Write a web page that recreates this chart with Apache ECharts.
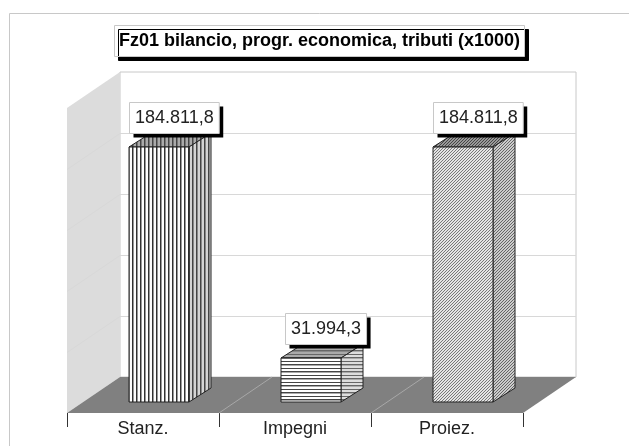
<!DOCTYPE html>
<html>
<head>
<meta charset="utf-8">
<style>
  html, body { margin: 0; padding: 0; background: #fff; }
  #chart-container { width: 629px; height: 446px; }
</style>
<script src="https://cdn.jsdelivr.net/npm/echarts@6/dist/echarts.min.js"></script>
</head>
<body>
<div id="chart-container"></div>
<script>
var categories = ['Stanz.', 'Impegni', 'Proiez.'];
var values = [184811.8, 31994.3, 184811.8];
var valueLabels = ['184.811,8', '31.994,3', '184.811,8'];
var gridValues = [0, 44200, 88400, 132600, 176800, 221000];
var chartTitle = 'Fz01 bilancio, progr. economica, tributi (x1000)';

var font = '"Liberation Sans", Arial, sans-serif';
var wallDx = 53, wallDy = -36;   // oblique depth of the floor
var barDx = 16, barDy = -11;     // bars stand a bit behind the front edge
var sideDx = 22, sideDy = -14;   // depth of one bar

// little hatch tiles for the bars
function tile(w, h, bg, draw) {
  var c = document.createElement('canvas');
  c.width = w;
  c.height = h;
  var ctx = c.getContext('2d');
  ctx.fillStyle = bg;
  ctx.fillRect(0, 0, w, h);
  draw(ctx);
  return { image: c, repeat: 'repeat' };
}
function vertical(bg, fg, soft) {
  return tile(4, 4, bg, function (ctx) {
    ctx.fillStyle = fg;
    ctx.fillRect(0, 0, 1, 4);
    ctx.fillStyle = soft;
    ctx.fillRect(1, 0, 1, 4);
  });
}
function horizontal(bg, fg, soft) {
  return tile(4, 7, bg, function (ctx) {
    ctx.fillStyle = fg;
    ctx.fillRect(0, 0, 4, 1);
    ctx.fillRect(0, 4, 4, 1);
    ctx.fillStyle = soft;
    ctx.fillRect(0, 1, 4, 1);
  });
}
function diagonal(bg, fg) {
  return tile(3, 3, bg, function (ctx) {
    ctx.fillStyle = fg;
    ctx.fillRect(2, 0, 1, 1);
    ctx.fillRect(1, 1, 1, 1);
    ctx.fillRect(0, 2, 1, 1);
  });
}
var patterns = [
  { front: vertical('#fff', '#333', '#999'), side: vertical('#d4d4d4', '#444', '#888'), top: vertical('#aaa', '#444', '#777') },
  { front: horizontal('#fff', '#444', '#aaa'), side: horizontal('#ddd', '#666', '#aaa'), top: horizontal('#aaa', '#666', '#888') },
  { front: diagonal('#e4e4e4', '#777'), side: diagonal('#ccc', '#666'), top: diagonal('#999', '#444') }
];

var measure = document.createElement('canvas').getContext('2d');
measure.font = '18px ' + font;

function poly(points, fill, stroke) {
  return {
    type: 'polygon',
    shape: { points: points },
    style: { fill: fill, stroke: stroke || null, lineWidth: 1 }
  };
}

function renderRoom(params, api) {
  var band = api.size([1, 0])[0];
  var x0 = api.coord([0, 0])[0] - band / 2;
  var x1 = x0 + band * categories.length;
  var y0 = api.coord([0, 0])[1];
  var yTop = api.coord([0, gridValues[gridValues.length - 1]])[1];
  var children = [
    poly([[x0 + wallDx, y0 + wallDy], [x0 + wallDx, yTop + wallDy], [x1 + wallDx, yTop + wallDy], [x1 + wallDx, y0 + wallDy]], '#fff', '#c8c8c8'),
    poly([[x0, y0], [x0, yTop], [x0 + wallDx, yTop + wallDy], [x0 + wallDx, y0 + wallDy]], '#dcdcdc', null),
    poly([[x0, y0], [x0 + wallDx, y0 + wallDy], [x1 + wallDx, y0 + wallDy], [x1, y0]], '#808080', null)
  ];
  gridValues.slice(1, -1).forEach(function (v) {
    var y = Math.round(api.coord([0, v])[1]) + 0.5;
    children.push({
      type: 'polyline',
      shape: { points: [[x0, y], [x0 + wallDx, y + wallDy], [x1 + wallDx, y + wallDy]] },
      style: { fill: null, stroke: '#d8d8d8', lineWidth: 1 }
    });
  });
  for (var i = 1; i < categories.length; i++) {
    var x = x0 + band * i;
    children.push({
      type: 'line',
      shape: { x1: x, y1: y0, x2: x + wallDx, y2: y0 + wallDy },
      style: { stroke: '#a8a8a8', lineWidth: 1 }
    });
  }
  return { type: 'group', children: children };
}

function renderBar(params, api) {
  var i = api.value(0);
  var top = api.coord([i, api.value(1)]);
  var base = api.coord([i, 0]);
  var half = api.size([1, 0])[0] * 0.2;
  var l = Math.round(base[0] - half + barDx);
  var r = Math.round(base[0] + half + barDx);
  var b = Math.round(base[1] + barDy);
  var t = Math.round(top[1] + barDy);
  var p = patterns[i];
  var edge = '#222';
  var text = valueLabels[i];
  var w = measure.measureText(text).width + 11;
  var cx = (l + r + sideDx) / 2 + 4;
  var boxX = Math.round(cx - w / 2) + 0.5;
  var boxY = t + sideDy - 31 + 0.5;
  return {
    type: 'group',
    children: [
      poly([[l, t], [r, t], [r + sideDx, t + sideDy], [l + sideDx, t + sideDy]], p.top, edge),
      poly([[r, t], [r + sideDx, t + sideDy], [r + sideDx, b + sideDy], [r, b]], p.side, edge),
      poly([[l, t], [r, t], [r, b], [l, b]], p.front, edge),
      { type: 'rect', shape: { x: boxX + 4, y: boxY + 4, width: w, height: 31 }, style: { fill: '#000' } },
      { type: 'rect', shape: { x: boxX, y: boxY, width: w, height: 31 }, style: { fill: '#fff', stroke: '#c8c8c8', lineWidth: 1 } },
      {
        type: 'text',
        style: {
          text: text,
          x: boxX + w / 2,
          y: boxY + 16,
          align: 'center',
          verticalAlign: 'middle',
          font: '18px ' + font,
          fill: '#222'
        }
      }
    ]
  };
}

var myChart = echarts.init(document.getElementById('chart-container'), null, { renderer: 'canvas' });

var option = {
  animation: false,
  backgroundColor: '#fff',
  title: {
    text: chartTitle,
    left: 114,
    top: 25,
    padding: [7, 5, 7, 5],
    backgroundColor: '#fff',
    borderColor: '#c8c8c8',
    borderWidth: 1,
    shadowColor: '#000',
    shadowOffsetX: 4,
    shadowOffsetY: 4,
    shadowBlur: 0,
    textStyle: { fontFamily: font, fontSize: 18, fontWeight: 'bold', color: '#000' }
  },
  graphic: [
    {
      type: 'polyline',
      silent: true,
      shape: { points: [[9.5, 446], [9.5, 13.5], [629, 13.5]] },
      style: { fill: null, stroke: '#c8c8c8', lineWidth: 1 }
    }
  ],
  grid: { left: 67, right: 106, top: 108, bottom: 33 },
  xAxis: {
    type: 'category',
    data: categories,
    axisLine: { show: false },
    axisTick: { show: true, length: 14, lineStyle: { color: '#333' } },
    axisLabel: { margin: 7, fontFamily: font, fontSize: 18, color: '#222' }
  },
  yAxis: {
    type: 'value',
    min: 0,
    max: gridValues[gridValues.length - 1],
    interval: gridValues[1],
    show: false
  },
  series: [
    {
      type: 'custom',
      renderItem: renderRoom,
      silent: true,
      z: 1,
      data: [[0, 0]]
    },
    {
      type: 'custom',
      renderItem: renderBar,
      z: 2,
      encode: { x: 0, y: 1 },
      data: values.map(function (v, i) { return [i, v]; })
    }
  ]
};

option && myChart.setOption(option);
</script>
</body>
</html>
